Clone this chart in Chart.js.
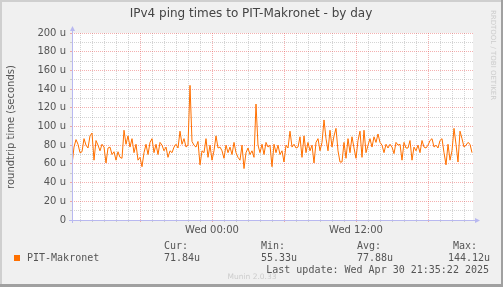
<!DOCTYPE html>
<html>
<head>
<meta charset="utf-8">
<script src="https://cdn.jsdelivr.net/npm/chart.js@4"></script>
<style>
html, body { margin: 0; padding: 0; background: #f0f0f0; overflow: hidden; }
</style>
</head>
<body>
<canvas id="pingGraf" width="503" height="287"></canvas>
<script>
// minutes relative to Wed 00:00, one sample every 10 minutes
let startMinute = -700, stepMinutes = 10;

let roundtrip = [
    59,78,86,81,72,73,87,80,77,90,93,64,85,80,74,81,78,61,77,78,70,73,64,73,67,66,96,81,90,78,87,72,81,64,
    67,57,72,81,70,83,87,72,81,70,83,80,74,78,67,74,72,78,81,77,95,81,87,78,80,144,84,80,78,84,59,74,72,87,
    67,80,64,74,90,77,78,74,66,80,72,78,70,83,72,67,64,80,55,72,77,70,74,67,124,80,72,81,70,83,78,80,57,81,
    72,80,70,74,62,80,77,95,78,81,77,78,89,67,90,72,83,74,80,61,83,87,74,83,107,87,74,96,78,90,98,74,62,
    62,83,66,87,72,89,77,66,85,95,67,96,72,80,87,78,89,83,92,83,80,72,81,77,81,78,71,83,80,81,64,83,77,
    77,85,64,78,74,80,72,85,78,77,80,85,87,78,80,77,85,87,72,59,81,64,74,98,81,62,95,87,78,80,83,81,72
];

let xTickValues = [0, 720];
let xTickNames = ["Wed 00:00", "Wed 12:00"];

let legendName = "PIT-Makronet";
let statNames = ["Cur:", "Min:", "Avg:", "Max:"];
let statValues = ["71.84u", "55.33u", "77.88u", "144.12u"];
let lastUpdate = "Last update: Wed Apr 30 21:35:22 2025";

let lineColor = '#ff7000';
let majorGrid = 'rgba(230, 80, 80, 0.45)';
let minorGrid = 'rgba(160, 160, 160, 0.45)';
let axisColor = '#b8b8f0';

let points = roundtrip.map((v, i) => ({ x: startMinute + i * stepMinutes, y: v }));

const muninFrame = {
    id: 'muninFrame',
    beforeDraw(chart) {
        const { ctx, chartArea } = chart;
        ctx.save();
        ctx.fillStyle = '#f0f0f0';
        ctx.fillRect(0, 0, chart.width, chart.height);
        ctx.fillStyle = '#ffffff';
        ctx.fillRect(chartArea.left, chartArea.top, chartArea.right - chartArea.left, chartArea.bottom - chartArea.top);
        // 3d border
        ctx.fillStyle = '#cfcfcf';
        ctx.fillRect(0, 0, 2, chart.height);
        ctx.fillRect(0, 0, chart.width, 2);
        ctx.fillStyle = '#a0a0a0';
        ctx.fillRect(chart.width - 2, 0, 2, chart.height);
        ctx.fillRect(0, chart.height - 3, chart.width, 3);
        ctx.restore();
    },
    afterDraw(chart) {
        const { ctx, chartArea } = chart;
        const l = chartArea.left, b = chartArea.bottom, t = chartArea.top, r = chartArea.right;
        ctx.save();
        // axes with arrows
        ctx.strokeStyle = axisColor;
        ctx.fillStyle = axisColor;
        ctx.lineWidth = 1;
        ctx.beginPath();
        ctx.moveTo(l + 0.5, b + 3);
        ctx.lineTo(l + 0.5, t - 4);
        ctx.moveTo(l - 3, b + 0.5);
        ctx.lineTo(r + 4, b + 0.5);
        ctx.stroke();
        ctx.beginPath();
        ctx.moveTo(l - 2, t - 2);
        ctx.lineTo(l + 3, t - 2);
        ctx.lineTo(l + 0.5, t - 7);
        ctx.closePath();
        ctx.fill();
        ctx.beginPath();
        ctx.moveTo(r + 2, b - 2);
        ctx.lineTo(r + 2, b + 3);
        ctx.lineTo(r + 7, b + 0.5);
        ctx.closePath();
        ctx.fill();

        // title
        ctx.fillStyle = '#444';
        ctx.font = '12px "DejaVu Sans"';
        ctx.textAlign = 'center';
        ctx.textBaseline = 'middle';
        ctx.fillText('IPv4 ping times to PIT-Makronet - by day', 251, 14);

        // vertical axis title
        ctx.save();
        ctx.translate(11, 127);
        ctx.rotate(-Math.PI / 2);
        ctx.font = '10px "DejaVu Sans"';
        ctx.fillStyle = '#555';
        ctx.fillText('roundtrip time (seconds)', 0, 0);
        ctx.restore();

        // rrdtool tag
        ctx.save();
        ctx.translate(493, 55);
        ctx.rotate(Math.PI / 2);
        ctx.font = '7px "DejaVu Sans"';
        ctx.fillStyle = '#cccccc';
        ctx.fillText('RRDTOOL / TOBI OETIKER', 0, 0);
        ctx.restore();

        // legend
        ctx.font = '10px "DejaVu Sans Mono"';
        ctx.fillStyle = '#555';
        ctx.textAlign = 'left';
        let statX = [164, 261, 357, 453];
        let valX = [164, 261, 357, 448];
        statNames.forEach((s, i) => ctx.fillText(s, statX[i], 246));
        statValues.forEach((s, i) => ctx.fillText(s, valX[i], 258));
        ctx.fillText(legendName, 27, 258);
        ctx.textAlign = 'right';
        ctx.fillText(lastUpdate, 489, 270);
        ctx.fillStyle = lineColor;
        ctx.fillRect(14, 255, 6, 6);

        ctx.textAlign = 'center';
        ctx.font = '7.5px "DejaVu Sans"';
        ctx.fillStyle = '#cccccc';
        ctx.fillText('Munin 2.0.33', 252, 277);
        ctx.restore();
    }
};

const pingChart = new Chart(document.getElementById('pingGraf'), {
    type: 'line',
    data: {
        datasets: [{
            label: legendName,
            data: points,
            borderColor: lineColor,
            borderWidth: 1,
            pointRadius: 0,
            tension: 0,
            fill: false
        }]
    },
    options: {
        responsive: false,
        animation: false,
        devicePixelRatio: 1,
        layout: {
            padding: { left: 0, top: 33, right: 30, bottom: 47 }
        },
        plugins: {
            legend: { display: false },
            title: { display: false },
            tooltip: { enabled: false }
        },
        scales: {
            x: {
                type: 'linear',
                min: -700,
                max: 1305,
                afterBuildTicks: scale => {
                    let ticks = [];
                    for (let m = -660; m <= 1260; m += 60) ticks.push({ value: m });
                    scale.ticks = ticks;
                },
                afterFit: scale => { scale.height = 20; },
                grid: {
                    color: c => (c.tick && c.tick.value % 360 === 0) ? majorGrid : minorGrid,
                    tickLength: 2,
                    lineWidth: 1
                },
                border: { display: false, dash: [1, 1] },
                ticks: {
                    autoSkip: false,
                    maxRotation: 0,
                    padding: 2,
                    color: '#555',
                    font: { family: 'DejaVu Sans', size: 10 },
                    callback: v => {
                        let i = xTickValues.indexOf(v);
                        return i >= 0 ? xTickNames[i] : '';
                    }
                }
            },
            y: {
                min: 0,
                max: 200,
                afterBuildTicks: scale => {
                    let ticks = [];
                    for (let v = 0; v <= 200; v += 10) ticks.push({ value: v });
                    scale.ticks = ticks;
                },
                afterFit: scale => { scale.width = 72; },
                grid: {
                    color: c => (c.tick && c.tick.value % 20 === 0) ? majorGrid : minorGrid,
                    tickLength: 2,
                    lineWidth: 1
                },
                border: { display: false, dash: [1, 1] },
                ticks: {
                    autoSkip: false,
                    padding: 4,
                    color: '#555',
                    font: { family: 'DejaVu Sans', size: 10 },
                    callback: v => v % 20 ? '' : (v ? v + ' u' : '0')
                }
            }
        }
    },
    plugins: [muninFrame]
});
</script>
</body>
</html>
